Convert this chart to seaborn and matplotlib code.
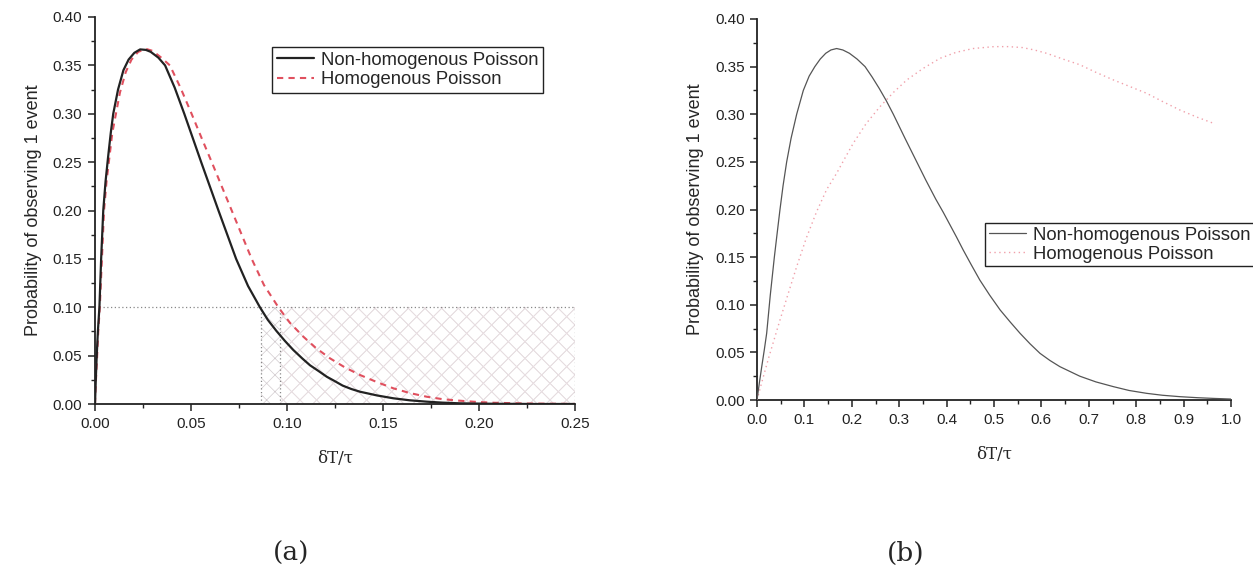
import matplotlib
matplotlib.use("Agg")
import matplotlib.pyplot as plt
from matplotlib.ticker import MultipleLocator, FormatStrFormatter
import seaborn as sns

# ---------------- data ----------------
# panel (a)
a_nonhom_x = [0, 0.0005, 0.0009, 0.0015, 0.0023, 0.0032, 0.0043, 0.0055, 0.0068, 0.0082,
              0.0095, 0.012, 0.0148, 0.0175, 0.0205, 0.0235, 0.0265, 0.029, 0.033, 0.0365,
              0.0415, 0.0465, 0.0509, 0.0553, 0.0598, 0.0643, 0.0689, 0.0735, 0.0797, 0.0859,
              0.090, 0.0945, 0.099, 0.1033, 0.108, 0.112, 0.1165, 0.1207, 0.125, 0.129,
              0.1335, 0.138, 0.147, 0.1554, 0.164, 0.1728, 0.181, 0.190, 0.20, 0.21, 0.23, 0.25]
a_nonhom_y = [0, 0.03, 0.05, 0.075, 0.10, 0.15, 0.20, 0.23, 0.255, 0.28,
              0.30, 0.325, 0.345, 0.356, 0.363, 0.3665, 0.366, 0.364, 0.358, 0.35,
              0.327, 0.30, 0.275, 0.25, 0.225, 0.20, 0.175, 0.15, 0.122, 0.10,
              0.087, 0.0755, 0.065, 0.0558, 0.047, 0.040, 0.034, 0.0282, 0.0235, 0.019,
              0.0155, 0.0127, 0.0088, 0.0059, 0.0038, 0.0024, 0.0014, 0.0007, 0.0004, 0.0002, 0.0, 0.0]
a_hom_x = [0, 0.0005, 0.001, 0.0017, 0.0025, 0.0036, 0.0047, 0.006, 0.0075, 0.009,
           0.0109, 0.013, 0.016, 0.019, 0.0225, 0.0266, 0.030, 0.0345, 0.039, 0.0445,
           0.0503, 0.0555, 0.0608, 0.066, 0.0712, 0.0764, 0.0816, 0.088, 0.0955, 0.1015,
           0.1085, 0.115, 0.1224, 0.130, 0.138, 0.147, 0.1554, 0.164, 0.1728, 0.181,
           0.190, 0.199, 0.2075, 0.225, 0.25]
a_hom_y = [0, 0.025, 0.045, 0.075, 0.10, 0.15, 0.20, 0.23, 0.255, 0.28,
           0.30, 0.322, 0.343, 0.356, 0.364, 0.367, 0.365, 0.358, 0.35, 0.327,
           0.30, 0.275, 0.25, 0.225, 0.20, 0.175, 0.15, 0.123, 0.10, 0.084,
           0.0696, 0.058, 0.0472, 0.038, 0.030, 0.0225, 0.0162, 0.0113, 0.0075, 0.005,
           0.0034, 0.0021, 0.0013, 0.0005, 0.0001]
a_threshold = 0.10
a_cross_nonhom = 0.0866
a_cross_hom = 0.0964

# panel (b)
b_nonhom_x = [0, 0.005, 0.010, 0.0155, 0.0204, 0.028, 0.0366, 0.0425, 0.0485, 0.055,
              0.0626, 0.072, 0.0837, 0.0977, 0.11, 0.122, 0.1335, 0.145, 0.156, 0.168,
              0.181, 0.195, 0.211, 0.228, 0.243, 0.258, 0.273, 0.2876, 0.312, 0.337,
              0.356, 0.377, 0.393, 0.407, 0.421, 0.435, 0.452, 0.470, 0.491, 0.513,
              0.534, 0.555, 0.576, 0.597, 0.618, 0.639, 0.660, 0.681, 0.715, 0.752,
              0.785, 0.822, 0.855, 0.892, 0.93, 0.962, 1.0]
b_nonhom_y = [0, 0.018, 0.035, 0.053, 0.070, 0.11, 0.15, 0.175, 0.20, 0.225,
              0.25, 0.275, 0.30, 0.325, 0.34, 0.35, 0.358, 0.364, 0.3675, 0.369,
              0.3675, 0.364, 0.358, 0.35, 0.339, 0.327, 0.314, 0.30, 0.275, 0.25,
              0.231, 0.211, 0.197, 0.184, 0.171, 0.1575, 0.142, 0.126, 0.11, 0.0945,
              0.082, 0.070, 0.059, 0.049, 0.0415, 0.035, 0.030, 0.025, 0.019, 0.014,
              0.010, 0.007, 0.005, 0.0035, 0.0024, 0.0017, 0.001]
b_hom_x = [0, 0.012, 0.025, 0.0485, 0.066, 0.0837, 0.104, 0.126, 0.147, 0.168,
           0.185, 0.203, 0.23, 0.2595, 0.288, 0.316, 0.35, 0.386, 0.42, 0.456,
           0.50, 0.53, 0.56, 0.585, 0.611, 0.645, 0.681, 0.715, 0.752, 0.787,
           0.822, 0.857, 0.892, 0.928, 0.963]
b_hom_y = [0, 0.022, 0.045, 0.084, 0.112, 0.14, 0.17, 0.198, 0.221, 0.238,
           0.2535, 0.2695, 0.29, 0.308, 0.323, 0.336, 0.348, 0.3587, 0.365, 0.369,
           0.371, 0.371, 0.370, 0.3675, 0.364, 0.358, 0.352, 0.344, 0.336, 0.329,
           0.322, 0.313, 0.3045, 0.297, 0.2905]

labels = ["Non-homogenous Poisson", "Homogenous Poisson"]

# ---------------- style ----------------
sns.set_style("ticks")
plt.rcParams["font.family"] = ["Liberation Sans", "DejaVu Sans"]
plt.rcParams["hatch.linewidth"] = 0.5

fig = plt.figure(figsize=(12.53, 5.85), dpi=100)
ax_a = fig.add_axes([95 / 1253, 1 - 404 / 585, 480 / 1253, 387 / 585])
ax_b = fig.add_axes([757 / 1253, 1 - 400 / 585, 474 / 1253, 381 / 585])

# ---------------- panel (a) ----------------
ax_a.fill_between([a_cross_nonhom, 0.25], [0, 0], [a_threshold, a_threshold], facecolor="none",
                  edgecolor="#d2cbcf", hatch="xx", linewidth=0, zorder=1)
ax_a.fill_between([a_cross_hom, 0.25], [0, 0], [a_threshold, a_threshold], facecolor="none",
                  edgecolor="#eadfe3", hatch="xx", linewidth=0, zorder=1)
ax_a.plot([0.0043, 0.25], [a_threshold, a_threshold], ls=(0, (1, 2)), color="#888888", lw=0.9, zorder=2)
for xv in (a_cross_nonhom, a_cross_hom, 0.25):
    ax_a.plot([xv, xv], [0, a_threshold], ls=(0, (1, 2)), color="#888888", lw=0.9, zorder=2)

sns.lineplot(x=a_nonhom_x, y=a_nonhom_y, ax=ax_a, color="#222222", lw=1.6,
             sort=False, estimator=None, label=labels[0], zorder=4)
sns.lineplot(x=a_hom_x, y=a_hom_y, ax=ax_a, color="#e0505e", lw=1.5,
             sort=False, estimator=None, label=labels[1], zorder=3)
ax_a.lines[-1].set_dashes((3, 2.5))

ax_a.set_xlim(0, 0.25)
ax_a.set_ylim(0, 0.40)
ax_a.xaxis.set_major_locator(MultipleLocator(0.05))
ax_a.xaxis.set_minor_locator(MultipleLocator(0.025))
ax_a.xaxis.set_major_formatter(FormatStrFormatter("%.2f"))

# ---------------- panel (b) ----------------
sns.lineplot(x=b_nonhom_x, y=b_nonhom_y, ax=ax_b, color="#555555", lw=0.9,
             sort=False, estimator=None, label=labels[0], zorder=4)
sns.lineplot(x=b_hom_x, y=b_hom_y, ax=ax_b, color="#f0a0aa", lw=1.0,
             sort=False, estimator=None, label=labels[1], zorder=3)
ax_b.lines[-1].set_dashes((1, 2.5))
ax_b.set_xlim(0, 1.0)
ax_b.set_ylim(0, 0.40)
ax_b.xaxis.set_major_locator(MultipleLocator(0.1))
ax_b.xaxis.set_minor_locator(MultipleLocator(0.05))
ax_b.xaxis.set_major_formatter(FormatStrFormatter("%.1f"))

for ax in (ax_a, ax_b):
    ax.yaxis.set_major_locator(MultipleLocator(0.05))
    ax.yaxis.set_minor_locator(MultipleLocator(0.025))
    ax.yaxis.set_major_formatter(FormatStrFormatter("%.2f"))
    for s in ("top", "right"):
        ax.spines[s].set_visible(False)
    for s in ("left", "bottom"):
        ax.spines[s].set_linewidth(1.3)
        ax.spines[s].set_color("#222222")
    ax.tick_params(which="major", direction="out", length=5, width=1.1, labelsize=11,
                   colors="#222222", pad=4)
    ax.tick_params(which="minor", direction="out", length=3, width=1.0, colors="#222222")
    ax.set_xlabel("δT/τ", fontsize=12, labelpad=14, family=["DejaVu Serif"])
    ax.set_ylabel("Probability of observing 1 event", fontsize=13, labelpad=8)
    ax.set_facecolor("white")

# legends
leg_a = ax_a.legend(loc="upper left", bbox_to_anchor=(272 / 1253, 1 - 47 / 585),
                    bbox_transform=fig.transFigure, fontsize=13.3, frameon=True, fancybox=False,
                    borderpad=0.25, handlelength=2.0, handletextpad=0.4, labelspacing=0.15,
                    borderaxespad=0)
leg_b = ax_b.legend(loc="upper left", bbox_to_anchor=(985 / 1253, 1 - 223 / 585),
                    bbox_transform=fig.transFigure, fontsize=13.3, frameon=True, fancybox=False,
                    borderpad=0.2, handlelength=2.0, handletextpad=0.4, labelspacing=0.1,
                    borderaxespad=0)
for leg in (leg_a, leg_b):
    fr = leg.get_frame()
    fr.set_edgecolor("#222222")
    fr.set_linewidth(1.0)
    fr.set_alpha(1)

# panel captions
fig.text(291 / 1253, 1 - 553 / 585, "(a)", fontsize=19, ha="center", va="center",
         family=["DejaVu Serif"])
fig.text(906 / 1253, 1 - 553 / 585, "(b)", fontsize=19, ha="center", va="center",
         family=["DejaVu Serif"])

fig.savefig("out.png", dpi=100, facecolor="white")
